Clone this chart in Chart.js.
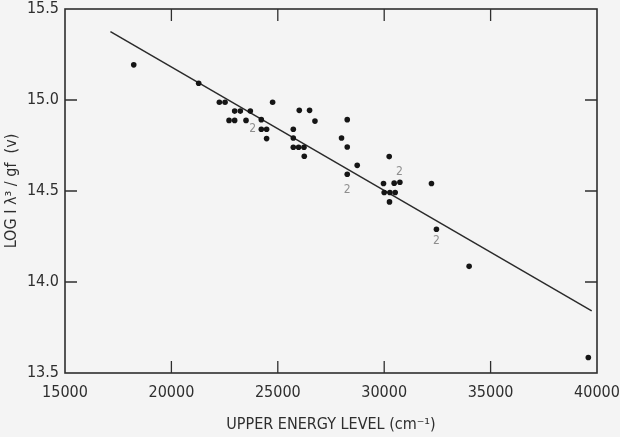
<!DOCTYPE html>
<html>
<head>
<meta charset="utf-8">
<script src="https://cdn.jsdelivr.net/npm/chart.js@4"></script>
<style>
  html, body { margin: 0; padding: 0; background: #f4f4f4; }
  #wrap { width: 620px; height: 437px; }
</style>
</head>
<body>
<div id="wrap"><canvas id="c" width="620" height="437"></canvas></div>
<script>
// ---- data ----
const energyX = [18230, 21282, 22254, 22521, 24756, 22972, 23239, 23709, 26009, 26493,
                 22709, 22972, 23507, 24225, 26746, 28263, 24225, 24474, 25728, 24474,
                 25728, 27995, 25728, 25977, 26230, 28263, 26244, 30235, 28732, 28263,
                 29967, 30469, 30737, 32221, 30000, 30268, 30516, 30249, 32455, 33991, 39592];
const logY    = [15.193, 15.092, 14.988, 14.988, 14.988, 14.939, 14.939, 14.939, 14.943, 14.943,
                 14.888, 14.888, 14.888, 14.892, 14.884, 14.892, 14.839, 14.839, 14.839, 14.788,
                 14.791, 14.791, 14.740, 14.740, 14.740, 14.742, 14.691, 14.689, 14.641, 14.592,
                 14.541, 14.543, 14.548, 14.541, 14.492, 14.492, 14.492, 14.440, 14.290, 14.086, 13.585];
const fitX = [17136, 39751];
const fitY = [15.376, 13.841];
// "2" annotations (duplicate-point markers)
const noteX = [23817, 28263, 30714, 32455];
const noteY = [14.839, 14.508, 14.605, 14.227];
const noteText = ['2', '2', '2', '2'];
const xTicks = [15000, 20000, 25000, 30000, 35000, 40000];
const yTicks = [13.5, 14.0, 14.5, 15.0, 15.5];
const xTitle = 'UPPER ENERGY LEVEL (cm\u207B\u00B9)';
const yTitle = 'LOG I \u03BB\u00B3 / gf  (v)';

const FONT = '"DejaVu Sans Condensed", "Liberation Sans Narrow", sans-serif';
const INK = '#2e2e2e';

const framePlugin = {
  id: 'frame',
  afterDatasetsDraw(chart) {
    const { ctx, chartArea: a, scales: { x, y } } = chart;
    ctx.save();
    ctx.strokeStyle = INK;
    ctx.lineWidth = 1.6;
    ctx.strokeRect(a.left, a.top, a.right - a.left, a.bottom - a.top);
    ctx.lineWidth = 1.3;
    const L = 12;
    ctx.beginPath();
    xTicks.slice(1, -1).forEach(v => {
      const px = x.getPixelForValue(v);
      ctx.moveTo(px, a.bottom); ctx.lineTo(px, a.bottom - L);
      ctx.moveTo(px, a.top); ctx.lineTo(px, a.top + L);
    });
    yTicks.slice(1, -1).forEach(v => {
      const py = y.getPixelForValue(v);
      ctx.moveTo(a.left, py); ctx.lineTo(a.left + L, py);
      ctx.moveTo(a.right, py); ctx.lineTo(a.right - L, py);
    });
    ctx.stroke();
    // "2" annotations
    ctx.fillStyle = '#8e8e8e';
    ctx.font = '12px ' + FONT;
    ctx.textAlign = 'center';
    ctx.textBaseline = 'middle';
    noteText.forEach((t, i) => {
      ctx.fillText(t, x.getPixelForValue(noteX[i]), y.getPixelForValue(noteY[i]));
    });
    ctx.restore();
  }
};

new Chart(document.getElementById('c'), {
  type: 'scatter',
  data: {
    datasets: [
      {
        data: energyX.map((v, i) => ({ x: v, y: logY[i] })),
        pointRadius: 2.8,
        pointBackgroundColor: '#151515',
        pointBorderWidth: 0,
        showLine: false
      },
      {
        data: fitX.map((v, i) => ({ x: v, y: fitY[i] })),
        showLine: true,
        borderColor: '#2a2a2a',
        borderWidth: 1.5,
        pointRadius: 0
      }
    ]
  },
  plugins: [framePlugin],
  options: {
    responsive: false,
    animation: false,
    events: [],
    layout: { padding: { top: 9, right: 23, bottom: 0, left: 0 } },
    plugins: { legend: { display: false }, tooltip: { enabled: false } },
    scales: {
      x: {
        type: 'linear',
        min: 15000, max: 40000,
        afterBuildTicks: s => { s.ticks = xTicks.map(v => ({ value: v })); },
        afterFit: s => { s.height = 64; s.paddingLeft = 0; s.paddingRight = 0; },
        grid: { display: false, drawTicks: false },
        border: { display: false },
        ticks: {
          padding: 10,
          color: INK,
          maxRotation: 0,
          font: { family: FONT, size: 16 },
          callback: v => String(v)
        },
        title: {
          display: true,
          text: xTitle,
          color: INK,
          font: { family: FONT, size: 16 },
          padding: { top: 0, bottom: 3 }
        }
      },
      y: {
        type: 'linear',
        min: 13.5, max: 15.5,
        afterBuildTicks: s => { s.ticks = yTicks.map(v => ({ value: v })); },
        afterFit: s => { s.width = 65; s.paddingTop = 0; s.paddingBottom = 0; },
        grid: { display: false, drawTicks: false },
        border: { display: false },
        ticks: {
          padding: 6,
          color: INK,
          font: { family: FONT, size: 16 },
          callback: v => v.toFixed(1)
        },
        title: {
          display: true,
          text: yTitle,
          color: INK,
          font: { family: FONT, size: 16 },
          padding: { top: 2, bottom: 0 }
        }
      }
    }
  }
});
</script>
</body>
</html>
